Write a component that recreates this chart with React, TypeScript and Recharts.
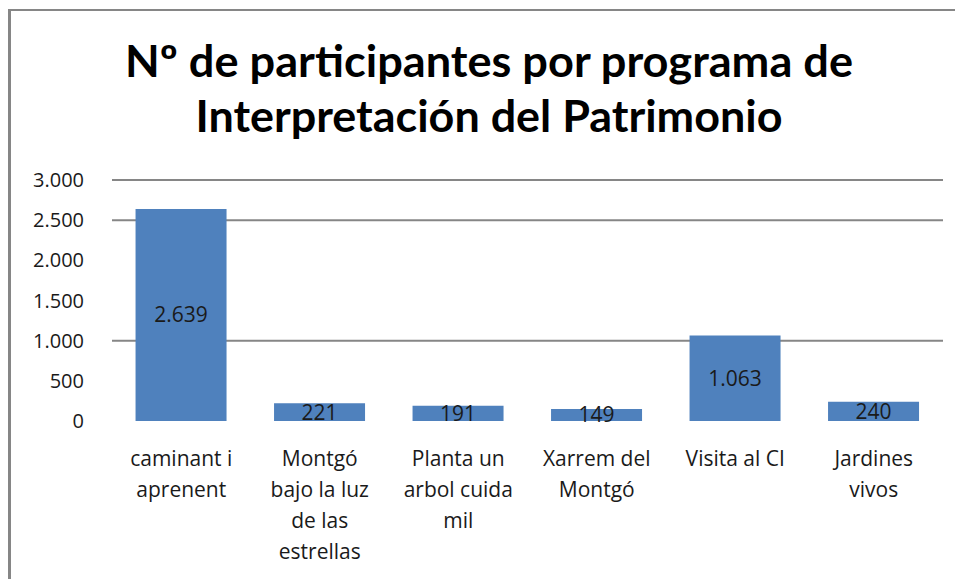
import React from "react";
import { BarChart, Bar, XAxis, YAxis, CartesianGrid, LabelList } from "recharts";

const categories = [
  "caminant i\naprenent",
  "Montgó\nbajo la luz\nde las\nestrellas",
  "Planta un\narbol cuida\nmil",
  "Xarrem del\nMontgó",
  "Visita al CI",
  "Jardines\nvivos",
];
const participants = [2639, 221, 191, 149, 1063, 240];
const yTicks = [0, 500, 1000, 1500, 2000, 2500, 3000];
const gridValues = [3000, 2500, 1000];
const titleLines = ["Nº de participantes por programa de", "Interpretación del Patrimonio"];

const data = categories.map((c, i) => ({ name: c, value: participants[i] }));

const fmt = (v: number) => {
  const s = String(Math.round(v));
  return s.replace(/\B(?=(\d{3})+(?!\d))/g, ".");
};

const FONT = "'Open Sans', 'DejaVu Sans', sans-serif";

const XTick = (props: any) => {
  const { x, y, payload } = props;
  const lines = String(payload.value).split("\n");
  return (
    <g>
      {lines.map((l: string, i: number) => (
        <text
          key={i}
          x={x}
          y={y + 37 + i * 31}
          textAnchor="middle"
          fontFamily={FONT}
          fontSize={21}
          fill="#1a1a1a"
        >
          {l}
        </text>
      ))}
    </g>
  );
};

const YTick = (props: any) => {
  const { x, y, payload } = props;
  return (
    <text x={x} y={y + 7} textAnchor="end" fontFamily={FONT} fontSize={20} fill="#1a1a1a">
      {fmt(payload.value)}
    </text>
  );
};

export default function App() {
  return (
    <div style={{ position: "absolute", left: 0, top: 0, width: 955, height: 579, background: "#fff", overflow: "hidden" }}>
      <div
        style={{
          position: "absolute",
          left: 8,
          top: 9,
          width: 947,
          height: 570,
          boxSizing: "border-box",
          borderLeft: "3px solid #868686",
          borderTop: "2px solid #868686",
        }}
      />
      <svg width={955} height={160} style={{ position: "absolute", left: 0, top: 0 }}>
        <text
          x={489}
          y={77}
          textAnchor="middle"
          fontFamily="Lato, 'Open Sans', sans-serif"
          fontWeight="bold"
          fontSize={44}
          fill="#000"
          textLength={728}
          lengthAdjust="spacingAndGlyphs"
        >
          {titleLines[0]}
        </text>
        <text
          x={489}
          y={132}
          textAnchor="middle"
          fontFamily="Lato, 'Open Sans', sans-serif"
          fontWeight="bold"
          fontSize={44}
          fill="#000"
          textLength={587}
          lengthAdjust="spacingAndGlyphs"
        >
          {titleLines[1]}
        </text>
      </svg>
      <div style={{ position: "absolute", left: 0, top: 0 }}>
        <BarChart
          width={955}
          height={579}
          data={data}
          margin={{ top: 180, right: 12, bottom: 0, left: 0 }}
          barCategoryGap="17%"
        >
          <CartesianGrid
            horizontal={true}
            vertical={false}
            horizontalValues={gridValues}
            stroke="#868686"
            strokeWidth={2}
          />
          <XAxis
            dataKey="name"
            height={158}
            axisLine={false}
            tickLine={false}
            interval={0}
            tick={<XTick />}
          />
          <YAxis
            width={112}
            domain={[0, 3000]}
            ticks={yTicks}
            axisLine={false}
            tickLine={false}
            tickSize={0}
            tickMargin={28}
            interval={0}
            tick={<YTick />}
          />
          <Bar dataKey="value" fill="#4F81BD" isAnimationActive={false}>
            <LabelList
              dataKey="value"
              position="center"
              formatter={(v: any) => fmt(Number(v))}
              fontFamily={FONT}
              fontSize={21}
              fill="#1a1a1a"
            />
          </Bar>
        </BarChart>
      </div>
    </div>
  );
}
